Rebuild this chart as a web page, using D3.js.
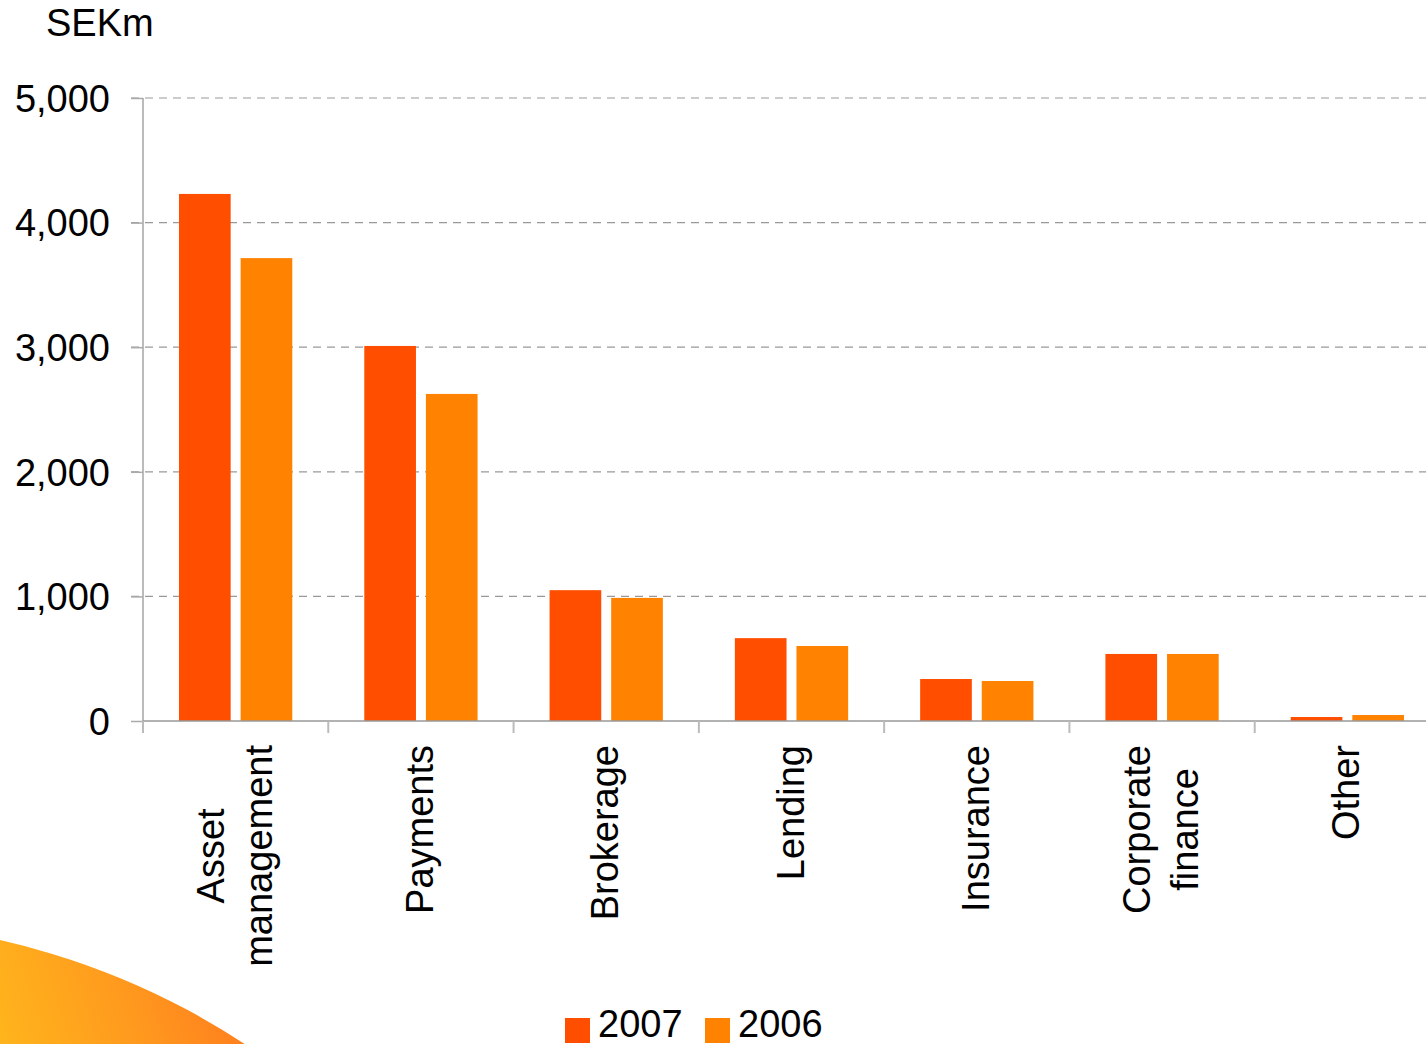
<!DOCTYPE html>
<html><head><meta charset="utf-8">
<script src="https://cdn.jsdelivr.net/npm/d3@7"></script>
<style>body{margin:0;background:#fff;}svg{display:block;font-family:"Liberation Sans",Arial,sans-serif;}</style>
</head><body>
<svg id="c" width="1426" height="1044"></svg>
<script>
const categories = [["Asset","management"],["Payments"],["Brokerage"],["Lending"],["Insurance"],["Corporate","finance"],["Other"]];
const seriesNames = ["2007","2006"];
const values2007 = [4230, 3010, 1050, 665, 337, 538, 32];
const values2006 = [3715, 2625, 988, 602, 321, 538, 48];
const yTicks = [0, 1000, 2000, 3000, 4000, 5000];
const colors = ["#FF4E00", "#FF8300"];
const unitLabel = "SEKm";

(function(){
const FS = 38;
const svg = d3.select("#c");
const defs = svg.append("defs");
const lg = defs.append("linearGradient").attr("id","sun").attr("gradientUnits","userSpaceOnUse")
  .attr("x1",0).attr("y1",1040).attr("x2",245).attr("y2",960);
lg.append("stop").attr("offset","0%").attr("stop-color","#FFB41C");
lg.append("stop").attr("offset","50%").attr("stop-color","#FF9A1E");
lg.append("stop").attr("offset","100%").attr("stop-color","#FF7A1E");
svg.append("circle").attr("cx",-163).attr("cy",1664).attr("r",742).attr("fill","url(#sun)");

const mL = 143, mR = 1440, mT = 98, mB = 721;
const x = d3.scaleBand().domain(d3.range(categories.length)).range([mL, mR]);
const bw = x.bandwidth();
const xs = d3.scaleBand().domain(seriesNames).range([36, bw - 36]).paddingInner(10/62);
const y = d3.scaleLinear().domain([0, 5000]).range([mB, mT]);

// grid
svg.append("g").selectAll("line").data(yTicks.filter(d => d > 0)).join("line")
  .attr("x1", mL - 12).attr("x2", 1426).attr("y1", d => y(d)).attr("y2", d => y(d))
  .attr("stroke", "#999").attr("stroke-width", 1.2).attr("stroke-dasharray", "8,6");

// bars
const data = [values2007, values2006];
seriesNames.forEach((s, si) => {
  svg.append("g").selectAll("rect").data(data[si]).join("rect")
    .attr("x", (d, i) => x(i) + xs(s)).attr("width", xs.bandwidth())
    .attr("y", d => y(d)).attr("height", d => mB - y(d))
    .attr("fill", colors[si]);
});

// y axis
const ya = d3.axisLeft(y).tickValues(yTicks).tickSize(12).tickPadding(21).tickFormat(d3.format(","));
const yg = svg.append("g").attr("transform", `translate(${mL},0)`).call(ya);
yg.select(".domain").attr("stroke", "#bbb").attr("stroke-width", 2).attr("d", `M0,${mT}V${mB + 12}`);
yg.selectAll(".tick line").attr("stroke", "#aaa").attr("stroke-width", 1.5);
yg.selectAll(".tick text").attr("font-size", FS).attr("fill", "#000").attr("font-family", "Liberation Sans, Arial, sans-serif").attr("dy", "0.35em");

// x axis line and ticks
svg.append("line").attr("x1", mL).attr("x2", 1426).attr("y1", mB).attr("y2", mB).attr("stroke", "#999").attr("stroke-width", 1.5);
svg.append("g").selectAll("line").data(d3.range(categories.length)).join("line")
  .attr("x1", d => x(d)).attr("x2", d => x(d)).attr("y1", mB).attr("y2", mB + 12)
  .attr("stroke", "#bbb").attr("stroke-width", 2);

// category labels
const lineGap = 48;
categories.forEach((lines, i) => {
  const cx = x(i) + bw / 2;
  const g = svg.append("g").attr("font-size", FS).attr("fill", "#000");
  const n = lines.length;
  const texts = lines.map((t) => g.append("text").text(t));
  const L = d3.max(texts, t => t.node().getComputedTextLength());
  const yc = 745 + L / 2;
  texts.forEach((t, j) => {
    const off = (j - (n - 1) / 2) * lineGap;
    const xx = cx + off + 12;
    t.attr("text-anchor", "middle").attr("transform", `translate(${xx},${yc}) rotate(-90)`);
  });
});

// unit label
svg.append("text").attr("x", 46).attr("y", 36).attr("font-size", FS).text(unitLabel);

// legend
const leg = svg.append("g");
const legX = [565, 705];
seriesNames.forEach((s, i) => {
  leg.append("rect").attr("x", legX[i]).attr("y", 1018).attr("width", 25).attr("height", 25).attr("fill", colors[i]);
  leg.append("text").attr("x", legX[i] + 33).attr("y", 1037).attr("font-size", FS).text(s);
});
})();
</script>
</body></html>
